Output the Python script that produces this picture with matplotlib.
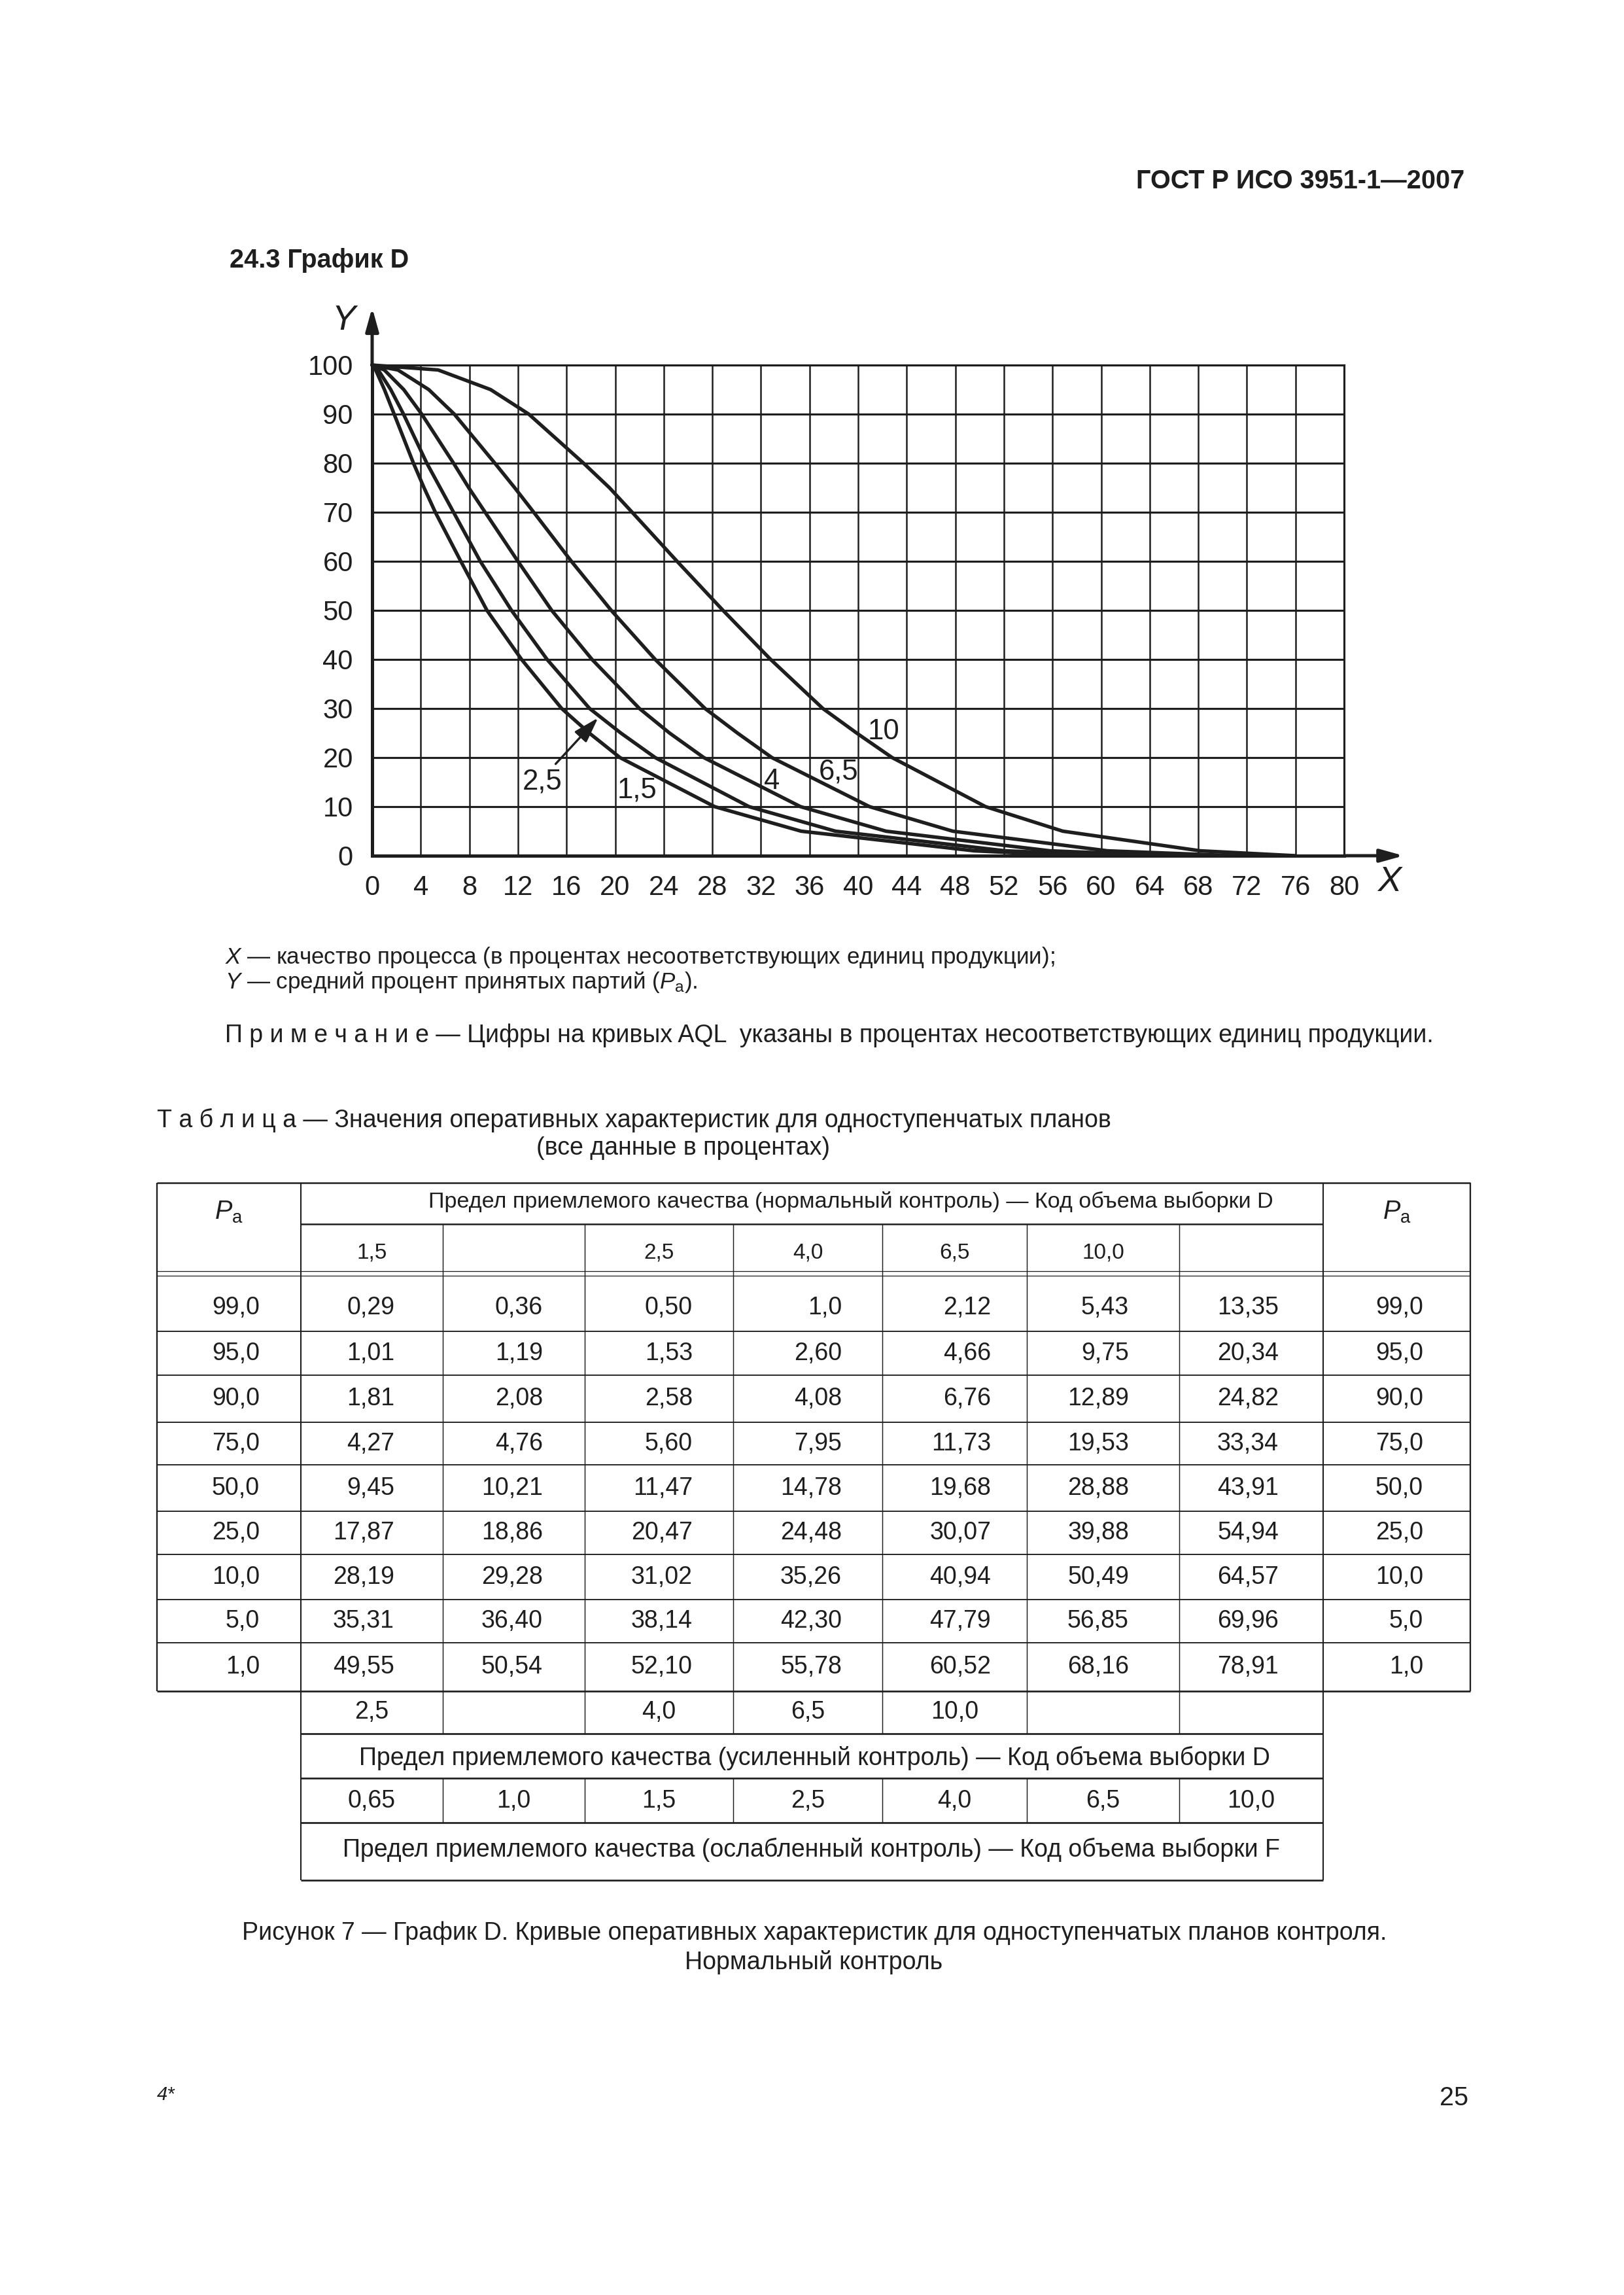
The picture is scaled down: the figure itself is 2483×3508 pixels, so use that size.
import matplotlib
matplotlib.use('Agg')
import matplotlib.pyplot as plt
import numpy as np

plt.rcParams['font.family'] = ['Liberation Sans', 'DejaVu Sans']
plt.rcParams['mathtext.fontset'] = 'custom'
plt.rcParams['mathtext.rm'] = 'Liberation Sans'
plt.rcParams['mathtext.it'] = 'Liberation Sans:italic'
plt.rcParams['mathtext.bf'] = 'Liberation Sans:bold'

W, H, DPI = 2483, 3508, 300
INK = '#1e1e1e'

# table: Pa and x values (% nonconforming) for each AQL column
pa = ['99,0', '95,0', '90,0', '75,0', '50,0', '25,0', '10,0', '5,0', '1,0']
normal_aql = ['1,5', '', '2,5', '4,0', '6,5', '10,0', '']
tightened_aql = ['2,5', '', '4,0', '6,5', '10,0', '', '']
reduced_aql = ['0,65', '1,0', '1,5', '2,5', '4,0', '6,5', '10,0']
col1 = ['0,29', '1,01', '1,81', '4,27', '9,45', '17,87', '28,19', '35,31', '49,55']
col2 = ['0,36', '1,19', '2,08', '4,76', '10,21', '18,86', '29,28', '36,40', '50,54']
col3 = ['0,50', '1,53', '2,58', '5,60', '11,47', '20,47', '31,02', '38,14', '52,10']
col4 = ['1,0', '2,60', '4,08', '7,95', '14,78', '24,48', '35,26', '42,30', '55,78']
col5 = ['2,12', '4,66', '6,76', '11,73', '19,68', '30,07', '40,94', '47,79', '60,52']
col6 = ['5,43', '9,75', '12,89', '19,53', '28,88', '39,88', '50,49', '56,85', '68,16']
col7 = ['13,35', '20,34', '24,82', '33,34', '43,91', '54,94', '64,57', '69,96', '78,91']
columns = [col1, col2, col3, col4, col5, col6, col7]

# curves drawn on the chart (columns 1,3,4,5,6) plus extra points
curve_cols = [0, 2, 3, 4, 5]
extra_pa = [100, 80, 70, 60, 40, 30, 20, 0]
extra_x = [
    [0, 3.4, 5.2, 7.3, 12.3, 15.6, 20.4, 58],
    [0, 4.5, 6.7, 8.9, 14.4, 17.9, 23.3, 62],
    [0, 6.7, 9.3, 12.0, 18.1, 22.0, 27.3, 66],
    [0, 10.1, 13.3, 16.4, 23.3, 27.4, 32.9, 71],
    [0, 17.4, 21.4, 25.1, 32.8, 37.1, 42.8, 76],
]
curve_labels = ['10', '6,5', '4', '1,5', '2,5']
label_x = [42.1, 38.4, 32.9, 21.8, 14.0]
label_y = [25.3, 17.1, 15.1, 13.3, 15.1]


def num(s):
    return float(s.replace(',', '.'))


fig = plt.figure(figsize=(W / DPI, H / DPI), dpi=DPI)
fig.patch.set_facecolor('white')

# page axes in pixel coordinates for text and table
pg = fig.add_axes([0, 0, 1, 1])
pg.set_xlim(0, W)
pg.set_ylim(H, 0)
pg.axis('off')

pg.text(2239, 277, 'ГОСТ Р ИСО 3951-1—2007', ha='right', va='center',
        fontsize=9.5, weight='bold', color=INK)
pg.text(351, 398, '24.3 График D', ha='left', va='center',
        fontsize=9.5, weight='bold', color=INK)

# chart
x0, x1, y0, y1 = 569, 2055, 558, 1308
ax = fig.add_axes([x0 / W, 1 - y1 / H, (x1 - x0) / W, (y1 - y0) / H])
ax.set_xlim(0, 80)
ax.set_ylim(0, 100)
ax.set_xticks(np.arange(0, 81, 4))
ax.set_yticks(np.arange(0, 101, 10))
ax.grid(axis='x', color=INK, lw=0.6)
ax.grid(axis='y', color=INK, lw=0.75)
ax.set_axisbelow(True)
ax.patch.set_alpha(0)
for side in ['left', 'bottom']:
    ax.spines[side].set_linewidth(1.2)
    ax.spines[side].set_color(INK)
for side in ['top', 'right']:
    ax.spines[side].set_linewidth(0.75)
    ax.spines[side].set_color(INK)
ax.tick_params(length=0, pad=7, labelsize=10, colors=INK)

for i, c in enumerate(curve_cols):
    yy = [num(v) for v in pa] + extra_pa
    xx = [num(v) for v in columns[c]] + extra_x[i]
    order = np.argsort(yy)[::-1]
    ax.plot(np.array(xx)[order], np.array(yy)[order], color=INK, lw=1.3,
            solid_joinstyle='round', solid_capstyle='round', clip_on=False)

for t, lx, ly in zip(curve_labels, label_x, label_y):
    ax.text(lx, ly, t, ha='center', va='center', fontsize=10.5, color=INK)

ax.annotate('', xy=(18.6, 28.1), xytext=(15.1, 18.7),
            arrowprops=dict(arrowstyle='-|>,head_length=0.8,head_width=0.25',
                            color=INK, lw=0.8, shrinkA=0, shrinkB=0))

# axis arrows
ax.annotate('', xy=(84.9, 0), xytext=(80, 0), annotation_clip=False,
            arrowprops=dict(arrowstyle='-|>,head_length=0.72,head_width=0.2',
                            color=INK, lw=1.2, shrinkA=0, shrinkB=0))
ax.annotate('', xy=(0, 111.7), xytext=(0, 100), annotation_clip=False,
            arrowprops=dict(arrowstyle='-|>,head_length=0.72,head_width=0.2',
                            color=INK, lw=1.2, shrinkA=0, shrinkB=0))

pg.text(525, 490, 'Y', ha='center', va='center', fontsize=13, style='italic', color=INK)
pg.text(2124, 1348, 'X', ha='center', va='center', fontsize=13, style='italic', color=INK)

# legend text under the chart
pg.text(344, 1463, '$X$ — качество процесса (в процентах несоответствующих единиц продукции);',
        ha='left', va='center', fontsize=8.4, color=INK)
pg.text(344, 1502, '$Y$ — средний процент принятых партий ($P_{\\mathrm{a}}$).',
        ha='left', va='center', fontsize=8.4, color=INK)
pg.text(344, 1583, 'П р и м е ч а н и е — Цифры на кривых AQL  указаны в процентах '
        'несоответствующих единиц продукции.', ha='left', va='center', fontsize=9, color=INK)

pg.text(240, 1712, 'Т а б л и ц а — Значения оперативных характеристик для одноступенчатых планов',
        ha='left', va='center', fontsize=9, color=INK)
pg.text(1045, 1755, '(все данные в процентах)', ha='center', va='center', fontsize=9, color=INK)

# table grid
col_edges = [240, 460, 677, 894, 1121, 1349, 1570, 1803, 2023, 2248]
row_edges = [1950, 2035, 2102, 2174, 2239, 2310, 2376, 2445, 2511, 2585]
low_edges = [2585, 2650, 2718, 2786, 2874]
t_top, t_head, t_dbl = 1808, 1871, 1943

pg.hlines(t_top, col_edges[0], col_edges[-1], color=INK, lw=0.6)
pg.hlines(t_head, col_edges[1], col_edges[-2], color=INK, lw=0.6)
pg.hlines([t_dbl, row_edges[0]], col_edges[0], col_edges[-1], color=INK, lw=0.3)
pg.hlines(row_edges[1:-1], col_edges[0], col_edges[-1], color=INK, lw=0.45)
pg.hlines(row_edges[-1], col_edges[0], col_edges[-1], color=INK, lw=0.65)
pg.hlines(low_edges[1:], col_edges[1], col_edges[-2], color=INK, lw=0.65)
pg.vlines([col_edges[0], col_edges[-1]], t_top, row_edges[-1], color=INK, lw=0.55)
pg.vlines([col_edges[1], col_edges[-2]], t_top, low_edges[-1], color=INK, lw=0.5)
pg.vlines(col_edges[2:-2], t_head, low_edges[1], color=INK, lw=0.35)
pg.vlines(col_edges[2:-2], low_edges[2], low_edges[3], color=INK, lw=0.35)

pg.text(1301, 1837, 'Предел приемлемого качества (нормальный контроль) — Код объема выборки D',
        ha='center', va='center', fontsize=8.2, color=INK)
for cx in [(col_edges[0] + col_edges[1]) / 2, (col_edges[-2] + col_edges[-1]) / 2]:
    pg.text(cx, 1853, '$P_{\\mathrm{a}}$', ha='center', va='center', fontsize=9.5, color=INK)

centers = [(col_edges[k + 1] + col_edges[k + 2]) / 2 for k in range(7)]
for cx, s in zip(centers, normal_aql):
    pg.text(cx, 1915, s, ha='center', va='center', fontsize=8, color=INK)

right_pad = [63, 74, 64, 62, 62, 55, 77, 68, 72]
row_y = [(row_edges[r] + row_edges[r + 1]) / 2 for r in range(9)]
row_y[0] = 1999
for r in range(9):
    cells = [pa[r]] + [col[r] for col in columns] + [pa[r]]
    for k, s in enumerate(cells):
        pg.text(col_edges[k + 1] - right_pad[k], row_y[r], s, ha='right', va='center',
                fontsize=9, color=INK)

for cx, s in zip(centers, tightened_aql):
    pg.text(cx, 2617, s, ha='center', va='center', fontsize=9, color=INK)
pg.text(1245, 2687, 'Предел приемлемого качества (усиленный контроль) — Код объема выборки D',
        ha='center', va='center', fontsize=9, color=INK)
for cx, s in zip(centers, reduced_aql):
    pg.text(cx, 2753, s, ha='center', va='center', fontsize=9, color=INK)
pg.text(1240, 2827, 'Предел приемлемого качества (ослабленный контроль) — Код объема выборки F',
        ha='center', va='center', fontsize=9, color=INK)

pg.text(1245, 2955, 'Рисунок 7 — График D. Кривые оперативных характеристик для '
        'одноступенчатых планов контроля.', ha='center', va='center', fontsize=9, color=INK)
pg.text(1244, 3000, 'Нормальный контроль', ha='center', va='center', fontsize=9, color=INK)

pg.text(240, 3202, '4*', ha='left', va='center', fontsize=7, style='italic', color=INK)
pg.text(2245, 3207, '25', ha='right', va='center', fontsize=9.5, color=INK)

fig.savefig('out.png', dpi=DPI, facecolor='white')
